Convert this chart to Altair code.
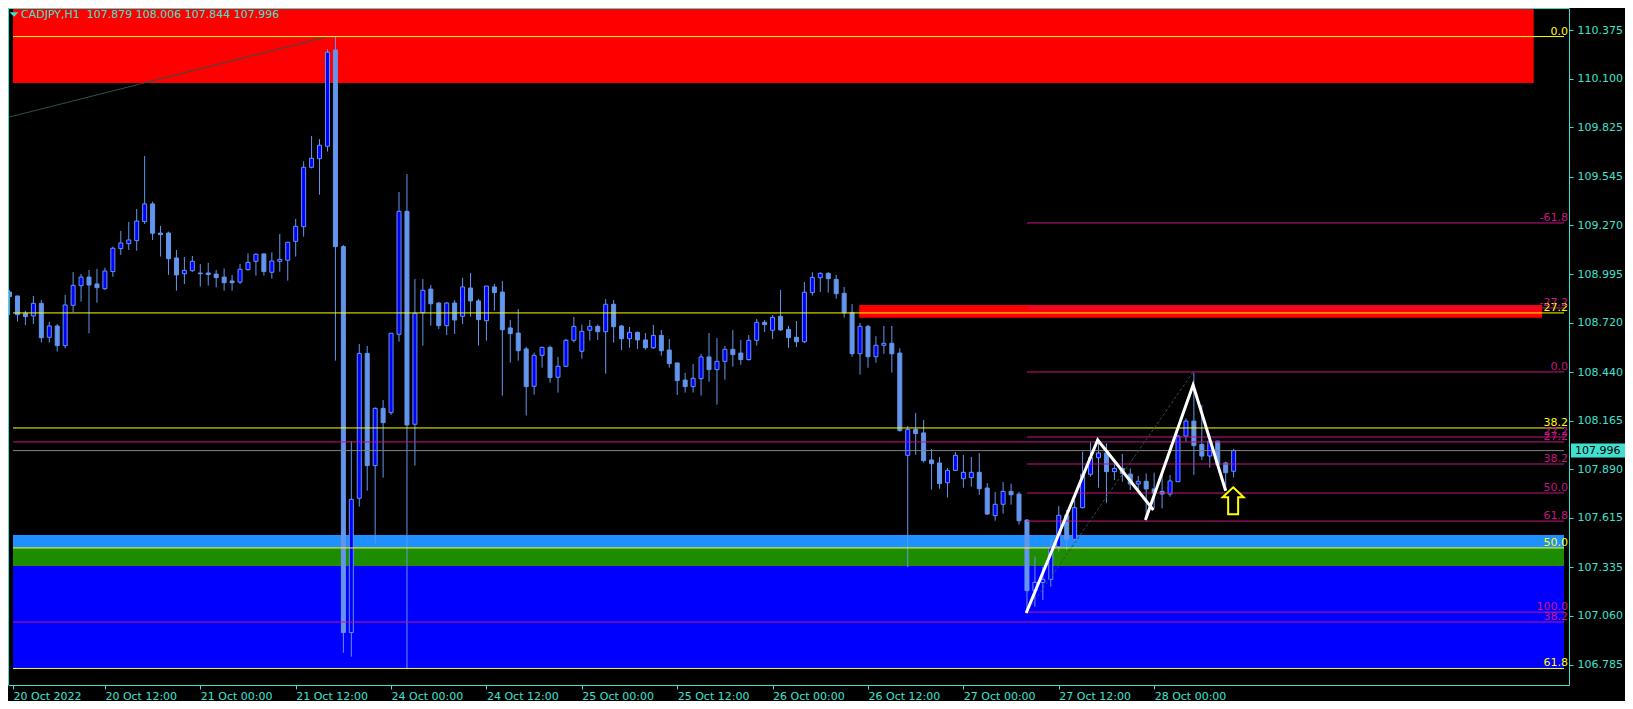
import json
import altair as alt
import pandas as pd

# ---------------- data ----------------
symbol = "CADJPY"
timeframe = "H1"

opens = [108.893,108.871,108.773,108.758,108.829,108.637,108.701,108.590,108.818,108.929,
         108.978,108.939,108.912,109.009,109.139,109.167,109.184,109.292,109.392,109.227,
         109.227,109.086,108.997,109.014,109.001,109.001,108.995,108.978,108.956,108.950,
         109.020,109.067,109.109,109.005,109.067,109.073,109.180,109.263,109.599,109.648,
         109.718,110.263,109.150,106.966,107.726,108.546,107.911,108.235,108.211,108.654,
         109.350,108.145,108.776,108.910,108.831,108.703,108.831,108.756,108.916,108.843,
         108.731,108.922,108.893,108.690,108.661,108.571,108.360,108.535,108.580,108.411,
         108.473,108.620,108.558,108.677,108.699,108.669,108.824,108.701,108.629,108.665,
         108.622,108.578,108.648,108.565,108.492,108.395,108.358,108.403,108.526,108.454,
         108.501,108.569,108.548,108.511,108.620,108.722,108.677,108.756,108.682,108.637,
         108.612,108.890,108.974,108.999,108.965,108.886,108.778,108.544,108.699,108.527,
         108.592,108.603,108.548,107.969,108.116,108.096,107.943,107.926,107.814,107.884,
         107.837,107.843,107.873,107.784,107.628,107.692,107.765,107.750,107.603,107.203,
         107.250,107.267,107.452,107.630,107.494,107.673,107.862,107.956,107.982,107.877,
         107.895,107.863,107.807,107.822,107.779,107.765,107.750,107.820,108.078,108.163,
         108.031,107.965,108.050,107.926,107.879]
highs = [108.905,108.871,108.786,108.871,108.848,108.724,108.712,108.877,109.007,108.995,
         109.018,109.024,109.031,109.150,109.239,109.290,109.363,109.663,109.405,109.267,
         109.235,109.131,109.092,109.097,109.052,109.058,109.018,109.026,108.990,109.052,
         109.112,109.112,109.109,109.118,109.222,109.175,109.307,109.633,109.776,109.758,
         110.267,110.339,109.160,108.050,108.599,108.588,108.240,108.282,108.660,109.459,
         109.561,108.967,108.967,108.933,108.837,108.837,108.848,108.973,109.001,108.854,
         108.927,108.939,108.956,108.735,108.797,108.584,108.550,108.584,108.590,108.526,
         108.629,108.752,108.709,108.735,108.709,108.854,108.848,108.707,108.695,108.669,
         108.661,108.707,108.678,108.627,108.492,108.435,108.486,108.543,108.661,108.633,
         108.588,108.678,108.622,108.650,108.741,108.735,108.763,108.905,108.701,108.729,
         108.950,109.005,109.005,109.005,108.990,108.922,108.826,108.718,108.707,108.643,
         108.701,108.701,108.575,108.135,108.209,108.169,108.005,107.960,107.897,107.988,
         107.971,107.960,107.982,107.812,107.762,107.818,107.809,107.763,107.607,107.396,
         107.339,107.494,107.682,107.660,107.716,107.990,108.046,108.056,108.037,107.924,
         107.977,107.895,107.852,107.867,107.871,107.867,107.858,108.084,108.178,108.437,
         108.254,108.075,108.050,107.933,108.006]
lows = [108.763,108.726,108.707,108.712,108.607,108.607,108.556,108.575,108.780,108.839,
        108.660,108.833,108.905,108.980,109.103,109.131,109.127,109.278,109.188,109.094,
        108.990,108.901,108.939,109.007,108.924,108.929,108.920,108.901,108.901,108.939,
        109.014,108.986,108.986,108.969,109.009,108.958,109.094,109.207,109.593,109.444,
        109.688,108.505,106.852,106.830,107.679,107.769,107.471,107.843,108.197,108.612,
        106.762,107.911,108.590,108.703,108.684,108.650,108.656,108.712,108.754,108.590,
        108.618,108.788,108.307,108.494,108.505,108.194,108.312,108.465,108.380,108.324,
        108.470,108.607,108.516,108.618,108.622,108.431,108.607,108.565,108.578,108.571,
        108.567,108.571,108.533,108.465,108.311,108.324,108.324,108.307,108.386,108.256,
        108.397,108.471,108.482,108.505,108.590,108.667,108.627,108.673,108.578,108.582,
        108.605,108.873,108.893,108.890,108.856,108.748,108.527,108.426,108.465,108.494,
        108.543,108.437,108.103,107.337,107.973,107.928,107.775,107.780,107.730,107.882,
        107.786,107.792,107.746,107.631,107.599,107.639,107.690,107.577,107.075,107.113,
        107.150,107.226,107.424,107.433,107.480,107.669,107.848,107.786,107.701,107.829,
        107.820,107.773,107.773,107.613,107.669,107.669,107.735,107.820,108.046,107.858,
        107.943,107.899,107.914,107.769,107.844]
closes = [108.867,108.765,108.754,108.829,108.635,108.701,108.590,108.820,108.931,108.978,
          108.933,108.918,109.012,109.141,109.171,109.188,109.295,109.392,109.226,109.218,
          109.082,108.990,109.016,109.067,108.997,108.992,108.975,108.946,108.946,109.022,
          109.061,109.107,109.009,109.069,109.078,109.175,109.265,109.599,109.650,109.724,
          110.250,109.150,106.966,107.720,108.546,107.911,108.235,108.154,108.660,109.350,
          108.141,108.773,108.903,108.827,108.703,108.831,108.735,108.922,108.843,108.737,
          108.927,108.890,108.680,108.658,108.561,108.358,108.535,108.580,108.409,108.473,
          108.620,108.699,108.671,108.699,108.669,108.824,108.697,108.629,108.665,108.622,
          108.578,108.648,108.561,108.488,108.392,108.358,108.405,108.526,108.454,108.501,
          108.569,108.539,108.511,108.620,108.722,108.709,108.750,108.679,108.635,108.612,
          108.892,108.976,108.999,108.969,108.884,108.776,108.544,108.699,108.527,108.592,
          108.603,108.544,108.109,108.116,108.092,107.939,107.922,107.809,107.884,107.969,
          107.873,107.873,107.780,107.637,107.692,107.765,107.746,107.599,107.203,107.250,
          107.267,107.452,107.630,107.494,107.673,107.862,107.956,107.982,107.877,107.895,
          107.867,107.807,107.822,107.779,107.754,107.750,107.824,108.078,108.163,108.024,
          107.965,108.050,107.916,107.871,107.996]
bars = list(range(len(opens)))

price_ticks = [110.375, 110.100, 109.825, 109.545, 109.270, 108.995, 108.720,
               108.440, 108.165, 107.890, 107.615, 107.335, 107.060, 106.785]
time_tick_bars = [0, 12, 24, 36, 48, 60, 72, 84, 96, 108, 120, 132, 144]
time_labels = ["20 Oct 2022", "20 Oct 12:00", "21 Oct 00:00", "21 Oct 12:00",
               "24 Oct 00:00", "24 Oct 12:00", "25 Oct 00:00", "25 Oct 12:00",
               "26 Oct 00:00", "26 Oct 12:00", "27 Oct 00:00", "27 Oct 12:00",
               "28 Oct 00:00"]

# zones (rectangles)
zone_x0 = [0.0, 106.9, 0.0, 0.0, 0.0]
zone_x1 = [191.75, 192.8, 999.0, 999.0, 999.0]
zone_top = [110.509, 108.820, 107.518, 107.445, 107.343]
zone_bot = [110.076, 108.748, 107.445, 107.343, 106.763]
zone_col = ["#FF0000", "#FF0000", "#1E90FF", "#1E8C00", "#0000FF"]

# fibonacci levels: yellow (full width), magenta long (full width), magenta short (from bar 128)
yel_labels = ["0.0", "27.2", "38.2", "50.0", "61.8"]
yel_prices = [110.339, 108.775, 108.124, 107.445, 106.763]
mag_long_labels = ["0.0", "27.2", "38.2"]
mag_long_prices = [110.509, 108.045, 107.026]
mag_short_labels = ["-61.8", "-27.2", "0.0", "27.2", "38.2", "50.0", "61.8", "100.0"]
mag_short_prices = [109.284, 108.803, 108.441, 108.073, 107.920, 107.756, 107.597, 107.082]
mag_short_start = 128
bid_price = 107.996

# zigzag (two polylines) and diagonals
zz_seg = ["a", "a", "a", "b", "b", "b"]
zz_bar = [127.9, 136.9, 143.9, 142.9, 148.9, 153.0]
zz_price = [107.077, 108.056, 107.660, 107.603, 108.367, 107.769]
trend_bar = [-0.16, 39.7]
trend_price = [109.882, 110.335]
diag_bar = [127.9, 148.9]
diag_price = [107.077, 108.441]
arrow_bar = [153.94]
arrow_price = [107.712]

# ---------------- styling / layout ----------------
W, H = 1561, 677
XMIN, XMAX = 0.4375, 195.5625
YMIN, YMAX = 106.6694, 110.5006
CYAN = "#40E0D0"
CORN = "#6495ED"
MAG = "#C71585"
YEL = "#FFFF00"
FONT = "DejaVu Sans"

xs = alt.Scale(domain=[XMIN, XMAX], nice=False, zero=False)
ys = alt.Scale(domain=[YMIN, YMAX], nice=False, zero=False)

xvals = [max(b, XMIN) for b in time_tick_bars]
xaxis = alt.Axis(values=xvals, labelExpr=f"{json.dumps(time_labels)}[round(datum.value / 12)]",
                 orient="bottom", grid=False, domainColor=CYAN, tickColor=CYAN,
                 labelColor=CYAN, labelFont=FONT, labelFontSize=11, labelAlign="left",
                 labelBaseline="top", labelPadding=1, tickSize=4, labelFlush=False,
                 labelOverlap=False, labelBound=False, title=None, zindex=1)
yaxis = alt.Axis(values=price_ticks, format=".3f", orient="right", grid=False,
                 domainColor=CYAN, tickColor=CYAN, labelColor=CYAN, labelFont=FONT,
                 labelFontSize=11, labelAlign="left", labelBaseline="middle",
                 labelPadding=4, tickSize=4, labelFlush=False, labelOverlap=False,
                 labelBound=False, title=None, zindex=1)


def X(f):
    return alt.X(f"{f}:Q", scale=xs, axis=xaxis)


def Y(f):
    return alt.Y(f"{f}:Q", scale=ys, axis=yaxis)


# candles
cdf = pd.DataFrame({"bar": bars, "open": opens, "high": highs, "low": lows, "close": closes})
cdf["top"] = cdf[["open", "close"]].max(axis=1)
cdf["bot"] = cdf[["open", "close"]].min(axis=1)
cdf["fillc"] = ["#0000FF" if c >= o else CORN for o, c in zip(opens, closes)]

zdf = pd.DataFrame({"x0": [max(v, XMIN) for v in zone_x0], "x1": [min(v, XMAX) for v in zone_x1],
                    "top": zone_top, "bot": zone_bot, "col": zone_col})

lrows = []
for lab, p in zip(yel_labels, yel_prices):
    lrows.append({"x0": XMIN, "x1": XMAX, "price": p, "col": YEL, "label": lab})
for lab, p in zip(mag_long_labels, mag_long_prices):
    lrows.append({"x0": XMIN, "x1": XMAX, "price": p, "col": MAG, "label": lab})
for lab, p in zip(mag_short_labels, mag_short_prices):
    lrows.append({"x0": mag_short_start, "x1": XMAX, "price": p, "col": MAG, "label": lab})
ldf = pd.DataFrame(lrows)
bdf = pd.DataFrame({"x0": [XMIN], "x1": [XMAX], "price": [bid_price], "col": ["#808080"],
                    "txt": [f"{bid_price:.3f}"]})

zzdf = pd.DataFrame({"seg": zz_seg, "bar": zz_bar, "price": zz_price, "ord": list(range(len(zz_bar)))})
tdf = pd.DataFrame({"bar": trend_bar, "price": trend_price})
ddf = pd.DataFrame({"bar": diag_bar, "price": diag_price})
adf = pd.DataFrame({"bar": arrow_bar, "price": arrow_price})

title_txt = f"{symbol},{timeframe}\u00a0 {opens[-1]:.3f} {highs[-1]:.3f} {lows[-1]:.3f} {closes[-1]:.3f}"
tt = pd.DataFrame({"t": [title_txt]})

arrow_path = "M 0 -1 L 0.78 -0.26 L 0.37 -0.26 L 0.37 1 L -0.37 1 L -0.37 -0.26 L -0.78 -0.26 Z"
box_path = "M -1 -0.26 L 1 -0.26 L 1 0.26 L -1 0.26 Z"
tri_path = "M -1 -0.5 L 1 -0.5 L 0 0.5 Z"

zones = alt.Chart(zdf).mark_rect(clip=True).encode(
    x=X("x0"), x2="x1", y=Y("top"), y2="bot", color=alt.Color("col:N", scale=None))
wicks = alt.Chart(cdf).mark_rule(color=CORN, strokeWidth=1, clip=True).encode(
    x=X("bar"), y=Y("low"), y2="high")
bodies = alt.Chart(cdf).mark_bar(size=4, stroke=CORN, strokeWidth=1, clip=True).encode(
    x=X("bar"), y=Y("bot"), y2="top", fill=alt.Fill("fillc:N", scale=None))
lines = alt.Chart(ldf).mark_rule(strokeWidth=1, clip=True).encode(
    x=X("x0"), x2="x1", y=Y("price"), color=alt.Color("col:N", scale=None))
bidline = alt.Chart(bdf).mark_rule(strokeWidth=1, clip=True).encode(
    x=X("x0"), x2="x1", y=Y("price"), color=alt.Color("col:N", scale=None))
trend = alt.Chart(tdf).mark_line(color="#2F4F4F", strokeWidth=1, clip=True).encode(
    x=X("bar"), y=Y("price"))
diag = alt.Chart(ddf).mark_line(color="#2F4F4F", strokeWidth=1, strokeDash=[3, 2], clip=True).encode(
    x=X("bar"), y=Y("price"))
zigzag = alt.Chart(zzdf).mark_line(color="#FFFFFF", strokeWidth=3, clip=True).encode(
    x=X("bar"), y=Y("price"), detail="seg:N", order="ord:Q")
arrow = alt.Chart(adf).mark_point(shape=arrow_path, size=729, filled=True, fill="#000000",
                                  stroke=YEL, strokeWidth=2, opacity=1).encode(
    x=X("bar"), y=Y("price"))
labels = alt.Chart(ldf).mark_text(align="right", baseline="bottom", font=FONT, fontSize=11).encode(
    x=alt.value(W - 1), y=Y("price"), text="label:N", color=alt.Color("col:N", scale=None))
pbox = alt.Chart(bdf).mark_point(shape=box_path, size=54 * 54, filled=True, fill=CYAN,
                                 strokeWidth=0, opacity=1).encode(
    x=alt.value(W + 29), y=Y("price"))
ptxt = alt.Chart(bdf).mark_text(align="left", baseline="middle", font=FONT, fontSize=11,
                                color="#000000").encode(
    x=alt.value(W + 6), y=Y("price"), text="txt:N")
title = alt.Chart(tt).mark_text(align="left", baseline="middle", font=FONT, fontSize=11,
                                color=CYAN).encode(
    x=alt.value(13), y=alt.value(7), text="t:N")
tri = alt.Chart(tt).mark_point(shape=tri_path, size=81, filled=True, fill=CYAN,
                               strokeWidth=0, opacity=1).encode(
    x=alt.value(6), y=alt.value(6.5))
frame_l = alt.Chart(tt).mark_rule(color=CYAN, strokeWidth=1).encode(
    x=alt.value(0.5), y=alt.value(0), y2=alt.value(H))
frame_t = alt.Chart(tt).mark_rule(color=CYAN, strokeWidth=1).encode(
    y=alt.value(0.5), x=alt.value(0), x2=alt.value(W))

chart = alt.layer(
    zones, wicks, bodies, lines, bidline, trend, diag, zigzag, arrow, labels,
    pbox, ptxt, title, tri, frame_l, frame_t
).properties(
    width=W, height=H,
    padding={"left": 0, "top": 0, "right": 56, "bottom": 16},
    autosize=alt.AutoSizeParams(type="none"),
).configure(background="#000000").configure_view(fill="#000000", strokeOpacity=0)

chart.save("out.html", embed_options={"renderer": "svg", "actions": False})
